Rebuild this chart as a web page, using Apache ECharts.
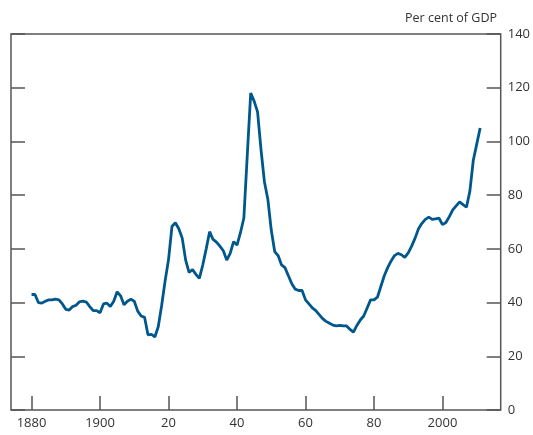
<!DOCTYPE html>
<html>
<head>
<meta charset="utf-8">
<script src="https://cdn.jsdelivr.net/npm/echarts@6/dist/echarts.min.js"></script>
<style>
  html, body { margin: 0; padding: 0; background: #fff; }
  #chart { width: 533px; height: 435px; }
</style>
</head>
<body>
<div id="chart"></div>
<script>
// years 1880..2011, debt as per cent of GDP
const startYear = 1880;
const debtValues = [
  43, 43, 40, 39.8, 40.5, 41, 41, 41.3, 41, 39.5,        // 1880s
  37.5, 37.2, 38.5, 39, 40.3, 40.5, 40.2, 38.5, 37, 37,  // 1890s
  36.2, 39.5, 39.8, 38.5, 40.5, 44, 42.5, 39.2, 40.5, 41.2, // 1900s
  40.5, 36.8, 35, 34.5, 28, 28.2, 27.2, 31, 39, 48,      // 1910s
  56, 68.3, 69.7, 67.5, 64, 55.8, 51.2, 52.3, 50.5, 49,  // 1920s
  54, 60, 66.4, 63.5, 62.5, 61, 59.3, 55.8, 58.3, 62.7,  // 1930s
  61.4, 66, 71.5, 95, 118, 115, 111, 97, 85, 78.5,       // 1940s
  67, 59, 57.5, 54, 53, 50, 47, 45, 44.5, 44.5,          // 1950s
  41, 39.5, 38, 37, 35.5, 34, 33, 32.3, 31.6, 31.3,      // 1960s
  31.5, 31.3, 31.3, 30, 29, 31.5, 33.5, 35, 38, 41,      // 1970s
  41, 42, 46, 50, 53, 55.5, 57.5, 58.3, 57.8, 56.8,      // 1980s
  58.5, 61, 64, 67.5, 69.5, 71, 71.8, 71, 71.2, 71.4,    // 1990s
  69, 69.8, 72, 74.5, 76, 77.5, 76.5, 75.5, 81.5, 93,    // 2000s
  99, 105                                                // 2010s
];
const xTickValues = [1880, 1900, 1920, 1940, 1960, 1980, 2000];
const xTickLabels = ['1880', '1900', '20', '40', '60', '80', '2000'];
const unitLabel = 'Per cent of GDP';

const chart = echarts.init(document.getElementById('chart'), null, { renderer: 'canvas' });

const seriesData = debtValues.map((v, i) => [startYear + i, v]);
const axisColor = '#555';
const textColor = '#333';
const fontFamily = '"Open Sans", "Noto Sans", sans-serif';

const option = {
  animation: false,
  grid: {
    left: 11,
    right: 32,
    top: 34,
    bottom: 25,
    show: true,
    borderColor: axisColor,
    borderWidth: 1.5,
    backgroundColor: 'transparent'
  },
  graphic: [{
    type: 'text',
    right: 36,
    top: 12,
    style: {
      text: unitLabel,
      fill: textColor,
      font: '12.5px ' + fontFamily
    }
  }],
  xAxis: {
    type: 'value',
    min: 1874,
    max: 2017,
    axisLine: { show: false },
    splitLine: { show: false },
    axisTick: {
      show: true,
      inside: true,
      length: 14,
      customValues: xTickValues,
      lineStyle: { color: axisColor, width: 1.5 }
    },
    axisLabel: {
      show: true,
      margin: 7,
      color: textColor,
      fontSize: 13,
      fontFamily: fontFamily,
      customValues: xTickValues,
      formatter: function (v) {
        const idx = xTickValues.indexOf(v);
        return idx >= 0 ? xTickLabels[idx] : '';
      }
    }
  },
  yAxis: [{
    type: 'value',
    position: 'right',
    min: 0,
    max: 140,
    interval: 20,
    axisLine: { show: false },
    splitLine: { show: false },
    axisTick: {
      show: true,
      inside: true,
      length: 14,
      lineStyle: { color: axisColor, width: 1.5 }
    },
    axisLabel: {
      margin: 7,
      color: textColor,
      fontSize: 13,
      fontFamily: fontFamily
    }
  }, {
    type: 'value',
    position: 'left',
    min: 0,
    max: 140,
    interval: 20,
    axisLine: { show: false },
    splitLine: { show: false },
    axisTick: {
      show: true,
      inside: true,
      length: 14,
      lineStyle: { color: axisColor, width: 1.5 }
    },
    axisLabel: { show: false }
  }],
  series: [{
    type: 'line',
    data: seriesData,
    showSymbol: false,
    yAxisIndex: 0,
    lineStyle: { color: '#00578c', width: 2.8 },
    itemStyle: { color: '#00578c' }
  }]
};

chart.setOption(option);
</script>
</body>
</html>
